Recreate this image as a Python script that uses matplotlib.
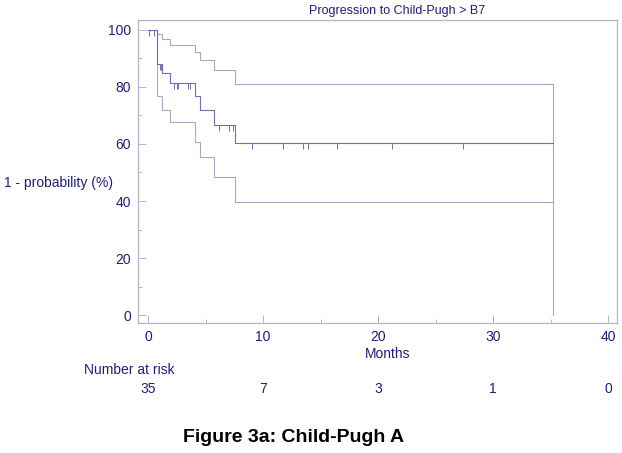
import numpy as np
import matplotlib
matplotlib.use("Agg")
import matplotlib.pyplot as plt
from matplotlib.ticker import MultipleLocator
from matplotlib.transforms import blended_transform_factory

plt.rcParams["font.family"] = ["Liberation Sans", "DejaVu Sans"]

# Kaplan-Meier estimate (1 - probability, %) and 95% confidence bounds
est_times = [0, 0.8, 1.2, 1.9, 4.1, 4.5, 5.7, 7.6, 35.2]
est_values = [100, 88, 85, 81.4, 77, 72, 66.7, 60.3, 60.3]

upper_times = [0, 0.75, 1.2, 1.9, 4.1, 4.5, 5.7, 7.6, 35.2]
upper_values = [100, 98.5, 96.8, 94.7, 92.3, 89.5, 85.8, 81, 0]

lower_times = [0, 0.8, 1.2, 1.9, 4.1, 4.5, 5.7, 7.6, 35.2]
lower_values = [100, 77, 72, 67.7, 60.7, 55.4, 48.4, 39.6, 39.6]

# censored observations (months)
censor_times = [0.1, 0.5, 1.0, 1.1, 2.3, 2.5, 2.65, 3.5, 3.65,
                6.2, 7.0, 7.4, 9.0, 11.7, 13.5, 13.9, 16.4, 21.2, 27.4]

risk_times = [0, 10, 20, 30, 40]
risk_counts = [35, 7, 3, 1, 0]

title = "Progression to Child-Pugh > B7"
caption = "Figure 3a: Child-Pugh A"

navy = "#1f1f7a"
frame = "#b4b4c6"
est_color = "#7070b4"
ci_color = "#a8a8c8"

fig = plt.figure(figsize=(6.22, 4.53), dpi=100)
ax = fig.add_axes([138 / 622, 1 - 323 / 453, (617 - 138) / 622, (323 - 20) / 453])

ax.plot(upper_times, upper_values, drawstyle="steps-post", color=ci_color, lw=0.8)
ax.plot(lower_times, lower_values, drawstyle="steps-post", color=ci_color, lw=0.8)
ax.plot(est_times, est_values, drawstyle="steps-post", color=est_color, lw=0.8)

# censor marks hang below the estimate line
idx = np.searchsorted(est_times, censor_times, side="right") - 1
levels = np.array(est_values)[idx]
ax.vlines(censor_times, levels - 2.2, levels, color=est_color, lw=0.7)

ax.set_xlim(-0.87, 40.78)
ax.set_ylim(-2.8, 103.5)
ax.xaxis.set_major_locator(MultipleLocator(10))
ax.xaxis.set_minor_locator(MultipleLocator(5))
ax.yaxis.set_major_locator(MultipleLocator(20))
ax.yaxis.set_minor_locator(MultipleLocator(10))
ax.tick_params(which="major", direction="in", length=6, width=0.7,
               color=frame, labelcolor=navy, labelsize=10, pad=5)
ax.tick_params(which="minor", direction="in", length=3, width=0.7, color=frame)
for s in ax.spines.values():
    s.set_color(frame)
    s.set_linewidth(0.9)

fig.text(397 / 622, 1 - 11 / 453, title, ha="center", va="center",
         color=navy, fontsize=9)
fig.text(4 / 622, 1 - 183 / 453, "1 - probability (%)", ha="left", va="center",
         color=navy, fontsize=10)
fig.text(388 / 622, 1 - 354 / 453, "Months", ha="center", va="center",
         color=navy, fontsize=10)
fig.text(84 / 622, 1 - 370 / 453, "Number at risk", ha="left", va="center",
         color=navy, fontsize=10)

trans = blended_transform_factory(ax.transData, fig.transFigure)
for t, n in zip(risk_times, risk_counts):
    ax.text(t, 1 - 389 / 453, str(n), transform=trans, ha="center",
            va="center", color=navy, fontsize=10, clip_on=False)

fig.text(294 / 622, 1 - 437 / 453, caption, ha="center", va="center",
         color="black", fontsize=14, fontweight="bold")

fig.savefig("out.png", dpi=100)
